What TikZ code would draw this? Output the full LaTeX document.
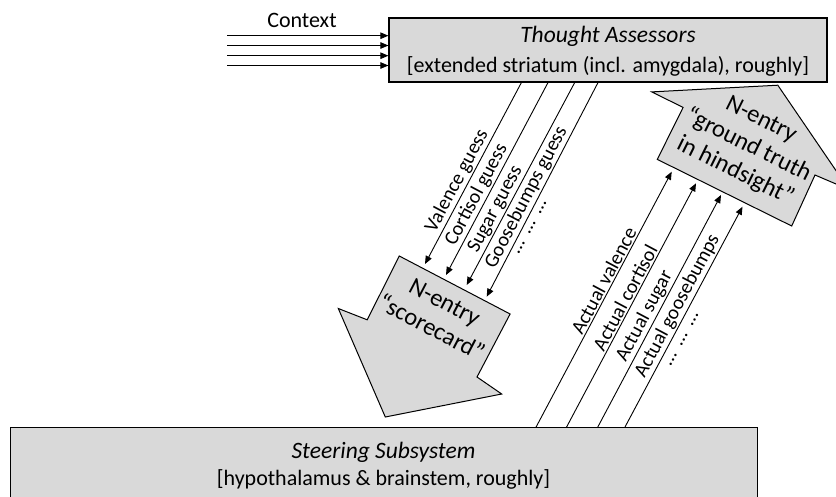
\documentclass[tikz,border=0pt]{standalone}
\usepackage{fontspec}
\setmainfont{Carlito}
\usetikzlibrary{arrows.meta}
\definecolor{boxgray}{RGB}{217,217,217}
\newcommand{\dotrun}{…\hspace{0.45em}…\hspace{0.45em}…}
\begin{document}
\begin{tikzpicture}[x=1pt,y=-1pt,
  box/.style={draw=black, line width=1.2pt, fill=boxgray, inner sep=0pt},
  bigarrow/.style={draw=black, line width=1pt, fill=boxgray, line join=miter},
  sig/.style={draw=black, line width=0.9pt, -{Triangle[length=8pt,width=6.5pt]}},
  lab/.style={sloped, above, inner sep=1.5pt, font=\fontsize{20}{22}\selectfont},
  dots/.style={rotate=62, inner sep=1.5pt, font=\fontsize{20}{22}\selectfont},
  boxtext/.style={font=\fontsize{22}{26}\selectfont},
  titletext/.style={font=\fontsize{23.5}{26}\selectfont\itshape},
  arrowtext/.style={align=center, font=\fontsize{24.5}{29}\selectfont}]
\useasboundingbox (0,0) rectangle (836,496);
\clip (0,0) rectangle (836,496);

% the two boxes
\node[box, minimum width=438pt, minimum height=64pt] (ta) at (608,50) {};
\node[titletext] (tat) at (608,36) {Thought Assessors};
\node[boxtext] (tab) at (608,66) {[extended striatum (incl. amygdala), roughly]};

\node[box, minimum width=747pt, minimum height=100pt, anchor=north west] (ss) at (10,427) {};
\node[titletext] (sst) at (383.5,452) {Steering Subsystem};
\node[boxtext] (ssb) at (383.5,479) {[hypothalamus \& brainstem, roughly]};

% context inputs
\node[boxtext] (ctx) at (302,20) {Context};
\coordinate (ctx1) at (227,35.7);
\coordinate (ctx2) at (227,45.5);
\coordinate (ctx3) at (227,55.7);
\coordinate (ctx4) at (227,65.5);
\foreach \i in {1,...,4} \draw[sig] (ctx\i) -- (ctx\i -| ta.west);

% scorecard arrow
\coordinate (sA) at (399.3,256);
\coordinate (sB) at (510.1,314);
\coordinate (sC) at (477,377);
\coordinate (sD) at (501.7,394);
\coordinate (sE) at (385.3,417);
\coordinate (sF) at (338.3,308.5);
\coordinate (sG) at (367.2,319.8);
\draw[bigarrow] (sA) -- (sB) -- (sC) -- (sD) -- (sE) -- (sF) -- (sG) -- cycle;
\node[arrowtext, rotate=-27.6] (sc) at (438,315) {N-entry\\“scorecard”};

% ground truth arrow
\coordinate (gA) at (657.3,159.4);
\coordinate (gB) at (683.1,107.4);
\coordinate (gC) at (651.7,91.9);
\coordinate (gD) at (777.8,85.2);
\coordinate (gE) at (848.9,189.5);
\coordinate (gF) at (815,175);
\coordinate (gG) at (791.7,226);
\draw[bigarrow] (gA) -- (gB) -- (gC) -- (gD) -- (gE) -- (gF) -- (gG) -- cycle;
\node[arrowtext, rotate=-26.4] (gt) at (748,146) {N-entry\\“ground truth\\in hindsight”};

% guesses from the thought assessors
\coordinate (gs1) at (521.7,82);
\coordinate (gs2) at (548.3,82);
\coordinate (gs3) at (575,82);
\coordinate (gs4) at (598.3,82);
\coordinate (ge1) at (425,264);
\coordinate (ge2) at (446,275);
\coordinate (ge3) at (466.7,285);
\coordinate (ge4) at (486.7,296.7);
\draw[sig] (gs1) -- node[lab, pos=0.57] {Valence guess} (ge1);
\draw[sig] (gs2) -- node[lab, pos=0.61] {Cortisol guess} (ge2);
\draw[sig] (gs3) -- node[lab, pos=0.65] {Sugar guess} (ge3);
\draw[sig] (gs4) -- node[lab, pos=0.56] {Goosebumps guess} (ge4);
\node[dots] (gdots) at (532,228) {\dotrun};

% actual values from the steering subsystem
\coordinate (as1) at (536.1,427);
\coordinate (as2) at (566.6,427);
\coordinate (as3) at (597.8,427);
\coordinate (as4) at (625,427);
\coordinate (ae1) at (671.7,171.7);
\coordinate (ae2) at (696,183.3);
\coordinate (ae3) at (721,195);
\coordinate (ae4) at (742.5,206.7);
\draw[sig] (as1) -- node[lab, pos=0.557] {Actual valence} (ae1);
\draw[sig] (as2) -- node[lab, pos=0.513] {Actual cortisol} (ae2);
\draw[sig] (as3) -- node[lab, pos=0.456] {Actual sugar} (ae3);
\draw[sig] (as4) -- node[lab, pos=0.527] {Actual goosebumps} (ae4);
\node[dots] (adots) at (684,340) {\dotrun};
\end{tikzpicture}
\end{document}
